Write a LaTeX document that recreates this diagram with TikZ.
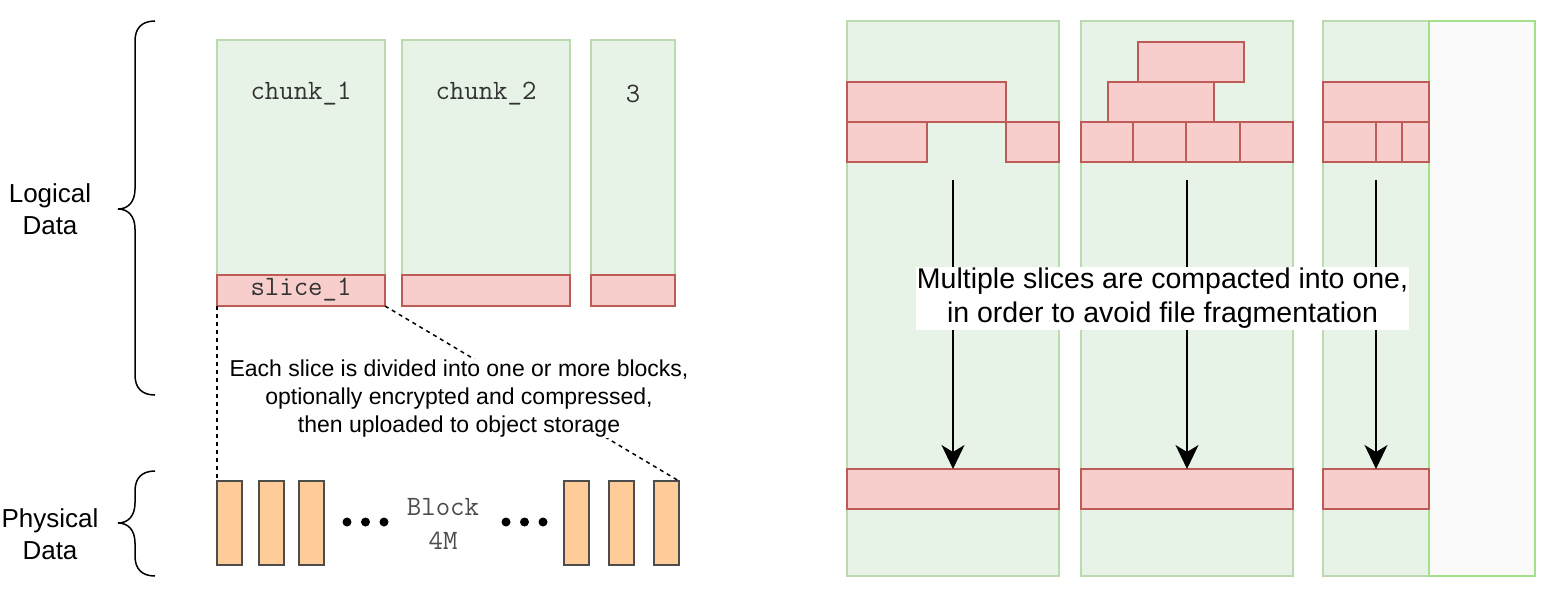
\documentclass[tikz,border=0pt]{standalone}
\usepackage{fontspec}
\setmainfont{Liberation Sans}
\usetikzlibrary{arrows.meta}
\definecolor{gfill}{HTML}{E8F3E7}
\definecolor{gline}{HTML}{BCDAB0}
\definecolor{sfill}{HTML}{F8CECC}
\definecolor{sline}{HTML}{BC5B57}
\definecolor{ofill}{HTML}{FFCC99}
\definecolor{oline}{HTML}{4D4D4D}
\definecolor{wline}{HTML}{A5DF88}
\definecolor{wfill}{HTML}{FAFAFA}
\definecolor{mtext}{HTML}{333333}
\begin{document}
\begin{tikzpicture}[x=1pt,y=-1pt,
  rbox/.style={rectangle, inner sep=0pt, outer sep=0pt, line width=1.5pt},
  chunkbox/.style={rbox, fill=gfill, draw=gline},
  slicebox/.style={rbox, fill=sfill, draw=sline},
  blockbox/.style={rbox, fill=ofill, draw=oline, minimum width=25pt, minimum height=84pt},
  emptybox/.style={rbox, fill=wfill, draw=wline},
  monolabel/.style={font=\ttfamily\fontsize{28}{30}\selectfont, text=mtext, inner sep=0pt},
  sidelabel/.style={font=\fontsize{26}{31.5}\selectfont, align=center, inner sep=0pt},
  brace/.style={line width=1.5pt, black},
  dashline/.style={line width=1.5pt, dash pattern=on 4pt off 4pt},
  dotc/.style={circle, fill=black, minimum size=9pt, inner sep=0pt},
  arrowline/.style={line width=1.6pt, -{Stealth[length=24pt,width=23pt,inset=7pt]}},
  note/.style={align=center, fill=white, inner sep=1pt}
]
\useasboundingbox (0,0) rectangle (1548,606);

% ---------- left: logical data ----------
\node[sidelabel] (logical) at (50,209) {Logical\\Data};
\node[sidelabel] (physical) at (50,534) {Physical\\Data};

\draw[brace] (155,21) .. controls (142,21) and (135,28) .. (135,41)
  -- (135,189) .. controls (135,202) and (128,209) .. (118,209)
  .. controls (128,209) and (135,216) .. (135,229)
  -- (135,375) .. controls (135,388) and (142,395) .. (155,395);
\draw[brace] (155,471) .. controls (142,471) and (135,478) .. (135,491)
  -- (135,503) .. controls (135,516) and (128,523) .. (118,523)
  .. controls (128,523) and (135,530) .. (135,543)
  -- (135,556) .. controls (135,569) and (142,576) .. (155,576);

\node[chunkbox, minimum width=168pt, minimum height=235pt] (chunk1) at (301,157.5) {};
\node[chunkbox, minimum width=168pt, minimum height=235pt] (chunk2) at (486,157.5) {};
\node[chunkbox, minimum width=84pt, minimum height=235pt] (chunk3) at (633,157.5) {};
\node[monolabel] (chunk1t) at (301,94) {chunk\_1};
\node[monolabel] (chunk2t) at (486,94) {chunk\_2};
\node[monolabel] (chunk3t) at (633,94) {3};

\node[slicebox, minimum width=168pt, minimum height=31pt] (slice1) at (301,290.5) {};
\node[slicebox, minimum width=168pt, minimum height=31pt] (slice2) at (486,290.5) {};
\node[slicebox, minimum width=84pt, minimum height=31pt] (slice3) at (633,290.5) {};
\node[monolabel] (slice1t) at (301,290) {slice\_1};

% blocks
\node[blockbox] (blk1) at (229.5,523) {};
\node[blockbox] (blk2) at (271.5,523) {};
\node[blockbox] (blk3) at (311.5,523) {};
\node[blockbox] (blk4) at (576.5,523) {};
\node[blockbox] (blk5) at (621.5,523) {};
\node[blockbox] (blk6) at (666.5,523) {};

\node[dotc] (d1) at (347,522) {};
\node[dotc] (d2) at (365.5,522) {};
\node[dotc] (d3) at (384,522) {};
\node[dotc] (d4) at (506,522) {};
\node[dotc] (d5) at (524.5,522) {};
\node[dotc] (d6) at (543,522) {};
\node[monolabel, align=center, font=\ttfamily\fontsize{28}{34}\selectfont, text=black!70] (blocklbl) at (443,524) {Block\\4M};

\draw[dashline] (slice1.south west) -- (blk1.north west);
\draw[dashline] (slice1.south east) -- (blk6.north east);
\node[note, font=\fontsize{23}{27.6}\selectfont] (divnote) at (459,398.5)
  {Each slice is divided into one or more blocks,\\optionally encrypted and compressed,\\then uploaded to object storage};

% ---------- right: compaction ----------
\node[chunkbox, minimum width=212pt, minimum height=555pt] (col1) at (953,298.5) {};
\node[chunkbox, minimum width=212pt, minimum height=555pt] (col2) at (1187,298.5) {};
\node[chunkbox, minimum width=106pt, minimum height=555pt] (col3) at (1376,298.5) {};
\node[emptybox, minimum width=106pt, minimum height=555pt] (col4) at (1482,298.5) {};

% column 1 slices
\node[slicebox, minimum width=159pt, minimum height=40pt] (s11) at (926.5,102) {};
\node[slicebox, minimum width=80pt, minimum height=40pt] (s12) at (887,142) {};
\node[slicebox, minimum width=53pt, minimum height=40pt] (s13) at (1032.5,142) {};
% column 2 slices
\node[slicebox, minimum width=106pt, minimum height=40pt] (s21) at (1191,62) {};
\node[slicebox, minimum width=106pt, minimum height=40pt] (s22) at (1161,102) {};
\node[slicebox, minimum width=52pt, minimum height=40pt] (s23) at (1107,142) {};
\node[slicebox, minimum width=53pt, minimum height=40pt] (s24) at (1159.5,142) {};
\node[slicebox, minimum width=54pt, minimum height=40pt] (s25) at (1213,142) {};
\node[slicebox, minimum width=53pt, minimum height=40pt] (s26) at (1266.5,142) {};
% column 3 slices
\node[slicebox, minimum width=106pt, minimum height=40pt] (s31) at (1376,102) {};
\node[slicebox, minimum width=53pt, minimum height=40pt] (s32) at (1349.5,142) {};
\node[slicebox, minimum width=26pt, minimum height=40pt] (s33) at (1389,142) {};
\node[slicebox, minimum width=27pt, minimum height=40pt] (s34) at (1415.5,142) {};

% compacted slices
\node[slicebox, minimum width=212pt, minimum height=40pt] (c1) at (953,489) {};
\node[slicebox, minimum width=212pt, minimum height=40pt] (c2) at (1187,489) {};
\node[slicebox, minimum width=106pt, minimum height=40pt] (c3) at (1376,489) {};

\coordinate (a1) at (953,180);
\coordinate (a2) at (1187,180);
\coordinate (a3) at (1376,180);
\draw[arrowline] (a1) -- (c1.north);
\draw[arrowline] (a2) -- (c2.north);
\draw[arrowline] (a3) -- (c3.north);

\node[note, font=\fontsize{28.5}{34.2}\selectfont] (compnote) at (1162.5,298.5)
  {Multiple slices are compacted into one,\\in order to avoid file fragmentation};
\end{tikzpicture}
\end{document}
